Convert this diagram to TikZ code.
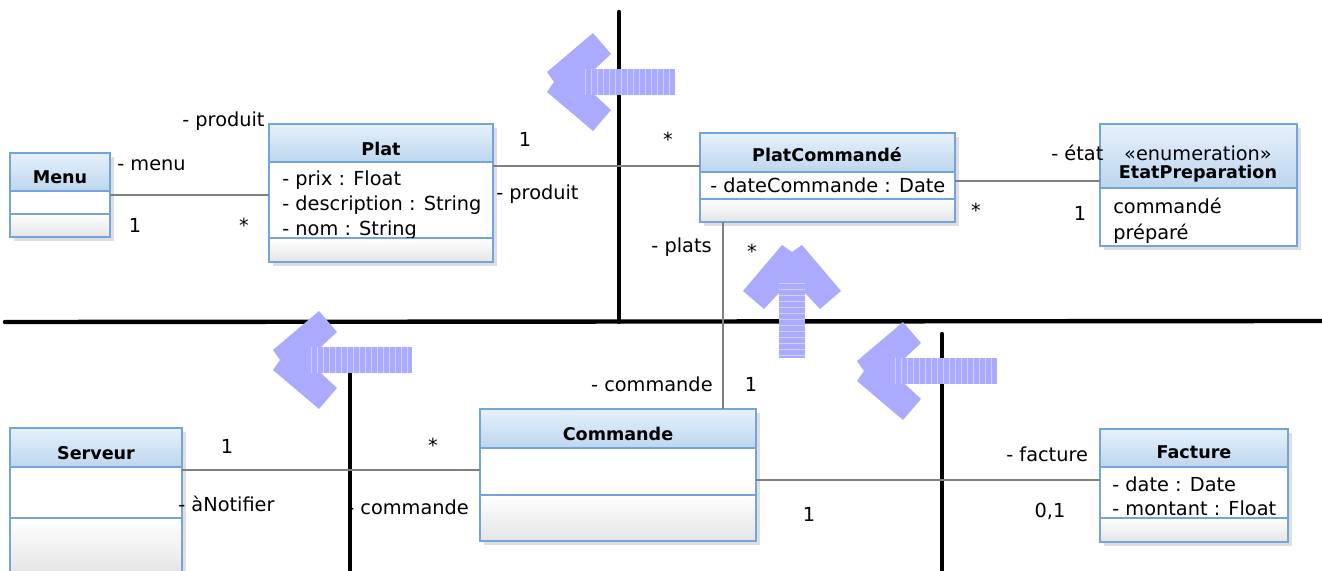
\documentclass[tikz,border=0pt]{standalone}
\usepackage{fontspec}
\setmainfont{DejaVu Sans}
\usetikzlibrary{fit}
\definecolor{umlblue}{RGB}{115,165,220}
\definecolor{headtop}{RGB}{230,241,252}
\definecolor{headbot}{RGB}{189,214,238}
\definecolor{opsbot}{RGB}{228,228,228}
\definecolor{assocgray}{RGB}{128,128,128}
\definecolor{arrowblue}{RGB}{170,170,255}

% class box: name, left, top, right, bottom, header bottom, operations top
\newcommand{\umlclass}[7]{%
    \fill[black!13] (#2+4,#3+4) rectangle (#4+4,#5+4);
    \fill[white] (#2,#3) rectangle (#4,#5);
    \shade[top color=headtop, bottom color=headbot] (#2,#3) rectangle (#4,#6);
    \ifnum#7<#5
        \shade[top color=white, bottom color=opsbot] (#2,#7) rectangle (#4,#5);
        \draw[umlline] (#2,#7) -- (#4,#7);
    \fi
    \draw[umlline] (#2,#6) -- (#4,#6);
    \draw[umlline] (#2,#3) rectangle (#4,#5);
    \node[inner sep=0pt, fit={(#2,#3) (#4,#5)}] (#1) {};
}

% fat striped arrow: tip x, tip y, rotation, length
\newcommand{\fatarrow}[4]{%
    \begin{scope}[shift={(#1,#2)}, rotate=#3]
        \fill[arrowblue] (0,-10) -- (46,-49) -- (64,-28) -- (34,0)
            -- (64,28) -- (46,49) -- (0,10) -- (7,0) -- cycle;
        \fill[arrowblue] (30,-13) rectangle (#4,13);
        \foreach \s in {38,44,...,#4}
            \draw[white, opacity=0.45, line width=0.4pt] (\s,-13) -- (\s,13);
    \end{scope}
}

\begin{document}
\begin{tikzpicture}[x=0.02cm, y=-0.02cm,
        font=\fontsize{11}{13}\selectfont,
        umlline/.style={draw=umlblue, line width=0.9pt},
        assoc/.style={draw=assocgray, line width=0.6pt},
        wall/.style={line width=2.5pt, black, line cap=round},
        role/.style={inner sep=0pt, anchor=base west},
        roler/.style={inner sep=0pt, anchor=base east},
        mult/.style={inner sep=0pt, anchor=base},
        title/.style={inner sep=0pt, anchor=base, font=\fontsize{10}{12}\selectfont\bfseries},
        attr/.style={inner sep=0pt, anchor=base west}]
    \useasboundingbox (0,0) rectangle (1322,571);

    % -- Classes --
    \umlclass{menu}{10}{153}{110}{237}{191}{214}
    \umlclass{plat}{269}{124}{493}{262}{162}{238}
    \umlclass{pc}{700}{133}{955}{222}{172}{199}
    \umlclass{etat}{1100}{124}{1297}{246}{188}{246}
    \umlclass{serveur}{10}{428}{182}{575}{467}{518}
    \umlclass{commande}{480}{409}{756}{541}{448}{495}
    \umlclass{facture}{1100}{429}{1288}{542}{467}{518}

    \node[title] (menuT) at (60,183) {Menu};
    \node[title] (platT) at (381,155) {Plat};
    \node[title] (pcT) at (827,161) {PlatCommandé};
    \node[mult] (etatS) at (1198,160) {«enumeration»};
    \node[title] (etatT) at (1198,178) {EtatPreparation};
    \node[title] (serveurT) at (96,459) {Serveur};
    \node[title] (commandeT) at (618,440) {Commande};
    \node[title] (factureT) at (1194,458) {Facture};

    % -- Attributes (cut at the compartment edge) --
    \begin{scope}
        \clip (269,162) rectangle (493,237);
        \node[attr] (platA1) at (282,185) {- prix : Float};
        \node[attr] (platA2) at (282,210) {- description : String};
        \node[attr] (platA3) at (282,235) {- nom : String};
    \end{scope}
    \node[attr] (pcA1) at (710,193) {- dateCommande : Date};
    \begin{scope}
        \clip (1100,188) rectangle (1297,242);
        \node[attr] (etatA1) at (1113,214) {commandé};
        \node[attr] (etatA2) at (1113,239) {préparé};
    \end{scope}
    \node[attr] (factA1) at (1112,491) {- date : Date};
    \node[attr] (factA2) at (1112,515) {- montant : Float};

    % -- Thick black separators --
    \draw[wall] (5,322) -- (1322,321);
    \draw[wall] (619,12) -- (619,322);
    \draw[wall] (350,372) -- (350,571);
    \draw[wall] (942,334) -- (942,571);

    % -- Associations --
    \coordinate (yPlatPc) at (0,166);
    \coordinate (yPcEtat) at (0,181);
    \coordinate (xPcCmd) at (723,0);
    \coordinate (yServ) at (0,470);
    \coordinate (yFact) at (0,480);
    \draw[assoc] (menu.east) -- (menu.east -| plat.west);
    \draw[assoc] (plat.east |- yPlatPc) -- (pc.west |- yPlatPc);
    \draw[assoc] (pc.east |- yPcEtat) -- (etat.west |- yPcEtat);
    \draw[assoc] (pc.south -| xPcCmd) -- (commande.north -| xPcCmd);
    \draw[assoc] (serveur.east |- yServ) -- (commande.west |- yServ);
    \draw[assoc] (commande.east |- yFact) -- (facture.west |- yFact);

    % -- Roles and multiplicities --
    \node[role] (r1) at (182,127) {- produit};
    \node[role] (r2) at (117,171) {- menu};
    \node[mult] (m1) at (135,232) {1};
    \node[mult] (m2) at (244,232) {*};

    \node[mult] (m3) at (525,147) {1};
    \node[mult] (m4) at (668,147) {*};
    \node[role] (r3) at (496,199) {- produit};

    \node[role] (r4) at (1051,160) {- état};
    \node[mult] (m5) at (976,217) {*};
    \node[mult] (m6) at (1080,220) {1};

    \node[roler] (r5) at (712,252) {- plats};
    \node[mult] (m7) at (752,258) {*};
    \node[roler] (r6) at (713,391) {- commande};
    \node[mult] (m8) at (751,391) {1};

    \node[mult] (m9) at (227,453) {1};
    \node[role] (r7) at (178,511) {- àNotifier};
    \node[mult] (m10) at (433,452) {*};
    \node[role] (r8) at (347,514) {- commande};

    \node[mult] (m11) at (809,521) {1};
    \node[role] (r9) at (1006,461) {- facture};
    \node[mult] (m12) at (1050,517) {0,1};

    % -- Big striped arrows --
    \fatarrow{547}{82}{0}{128}
    \fatarrow{273}{360}{0}{139}
    \fatarrow{792}{245}{-90}{113}
    \fatarrow{857}{371}{0}{140}
\end{tikzpicture}
\end{document}
